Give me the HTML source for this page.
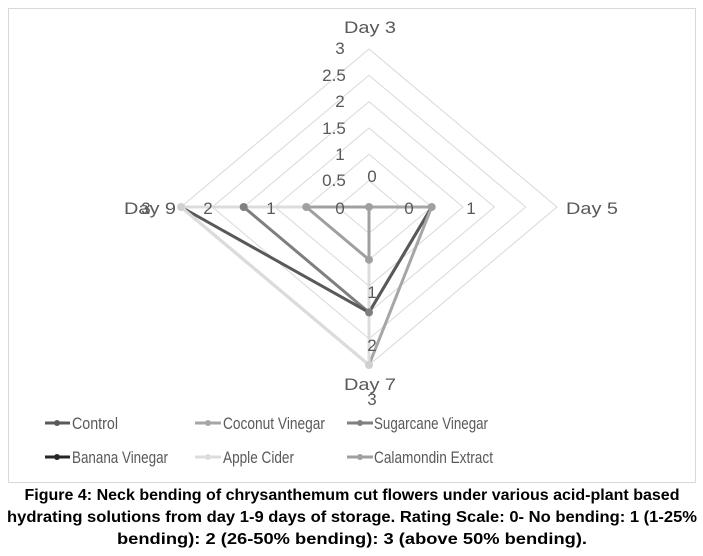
<!DOCTYPE html>
<html><head><meta charset="utf-8"><style>
html,body{margin:0;padding:0;background:#fff;width:703px;height:556px;overflow:hidden}
svg{display:block}
.t{font-family:"Liberation Sans",sans-serif;font-size:17px;fill:#595959}
.c{font-family:"Liberation Sans Narrow","Liberation Sans",sans-serif;font-weight:bold;font-size:16px;fill:#000}
</style></head><body>
<svg width="703" height="556" viewBox="0 0 703 556">
<rect x="8.5" y="8.5" width="687" height="474" fill="#fff" stroke="#d9d9d9"/>
<g fill="none" stroke="#d9d9d9" stroke-width="1">
<polygon points="369,180.6 400.3,207 369,233.4 337.7,207"/>
<polygon points="369,154.3 431.7,207 369,259.7 306.3,207"/>
<polygon points="369,128 463,207 369,286 275,207"/>
<polygon points="369,101.6 494.3,207 369,312.4 243.7,207"/>
<polygon points="369,75.3 525.7,207 369,338.7 212.3,207"/>
<polygon points="369,49 557,207 369,365 181,207"/>
</g>
<g fill="none" stroke-width="3" stroke-linejoin="round">
<polygon points="369,207 431.7,207 369,312.4 243.7,207" stroke="#7f7f7f"/>
<polygon points="369,207 431.7,207 369,312.4 181,207" stroke="#595959"/>
<polygon points="369,207 431.7,207 369,365 181,207" stroke="#a6a6a6"/>
<polygon points="369,207 369,207 369,365 181,207" stroke="#dcdcdc"/>
<polygon points="369,207 369,207 369,259.7 306.3,207" stroke="#a0a0a0"/>
</g>
<g fill="#a0a0a0">
<circle cx="369" cy="207" r="4"/><circle cx="431.7" cy="207" r="4"/><circle cx="306.3" cy="207" r="4"/><circle cx="369" cy="259.7" r="4"/>
<circle cx="243.7" cy="207" r="4" fill="#7f7f7f"/><circle cx="369" cy="312.4" r="4" fill="#7f7f7f"/>
<circle cx="181" cy="207" r="4" fill="#d0d0d0"/><circle cx="369" cy="365" r="4" fill="#d0d0d0"/>
</g>
<g class="t" text-anchor="middle">
<text x="370" y="33" textLength="52" lengthAdjust="spacingAndGlyphs">Day 3</text>
<text x="592" y="214" textLength="52" lengthAdjust="spacingAndGlyphs">Day 5</text>
<text x="370" y="390" textLength="52" lengthAdjust="spacingAndGlyphs">Day 7</text>
<text x="150" y="214" textLength="52" lengthAdjust="spacingAndGlyphs">Day 9</text>
<text x="340" y="54">3</text><text x="334" y="81">2.5</text><text x="340" y="107">2</text>
<text x="334" y="134">1.5</text><text x="340" y="160">1</text><text x="334" y="186">0.5</text>
<text x="372" y="182">0</text><text x="409" y="214">0</text><text x="471" y="214">1</text>
<text x="340" y="214">0</text><text x="271" y="214">1</text><text x="208" y="214">2</text><text x="146" y="214">3</text>
<text x="372" y="298">1</text><text x="372" y="351">2</text><text x="372" y="405">3</text>
</g>
<g stroke-width="3">
<line x1="45" y1="423" x2="70" y2="423" stroke="#595959"/><circle cx="57" cy="423" r="3" fill="#595959"/>
<line x1="195" y1="423" x2="221" y2="423" stroke="#a6a6a6"/><circle cx="208" cy="423" r="3" fill="#a6a6a6"/>
<line x1="347" y1="423" x2="373" y2="423" stroke="#7f7f7f"/><circle cx="360" cy="423" r="3" fill="#7f7f7f"/>
<line x1="45" y1="457" x2="70" y2="457" stroke="#262626"/><circle cx="57" cy="457" r="3" fill="#262626"/>
<line x1="195" y1="457" x2="221" y2="457" stroke="#dcdcdc"/><circle cx="208" cy="457" r="3" fill="#dcdcdc"/>
<line x1="347" y1="457" x2="373" y2="457" stroke="#a0a0a0"/><circle cx="360" cy="457" r="3" fill="#a0a0a0"/>
</g>
<g class="t">
<text x="72" y="429" textLength="46" lengthAdjust="spacingAndGlyphs">Control</text>
<text x="223" y="429" textLength="102" lengthAdjust="spacingAndGlyphs">Coconut Vinegar</text>
<text x="374" y="429" textLength="114" lengthAdjust="spacingAndGlyphs">Sugarcane Vinegar</text>
<text x="72" y="463" textLength="96" lengthAdjust="spacingAndGlyphs">Banana Vinegar</text>
<text x="223" y="463" textLength="71" lengthAdjust="spacingAndGlyphs">Apple Cider</text>
<text x="374" y="463" textLength="119" lengthAdjust="spacingAndGlyphs">Calamondin Extract</text>
</g>
<g class="c" text-anchor="middle">
<text x="352" y="500" textLength="655" lengthAdjust="spacingAndGlyphs">Figure 4: Neck bending of chrysanthemum cut flowers under various acid-plant based</text>
<text x="352" y="522" textLength="690" lengthAdjust="spacingAndGlyphs">hydrating solutions from day 1-9 days of storage. Rating Scale: 0- No bending: 1 (1-25%</text>
<text x="352" y="544" textLength="470" lengthAdjust="spacingAndGlyphs">bending): 2 (26-50% bending): 3 (above 50% bending).</text>
</g>
</svg>
</body></html>
